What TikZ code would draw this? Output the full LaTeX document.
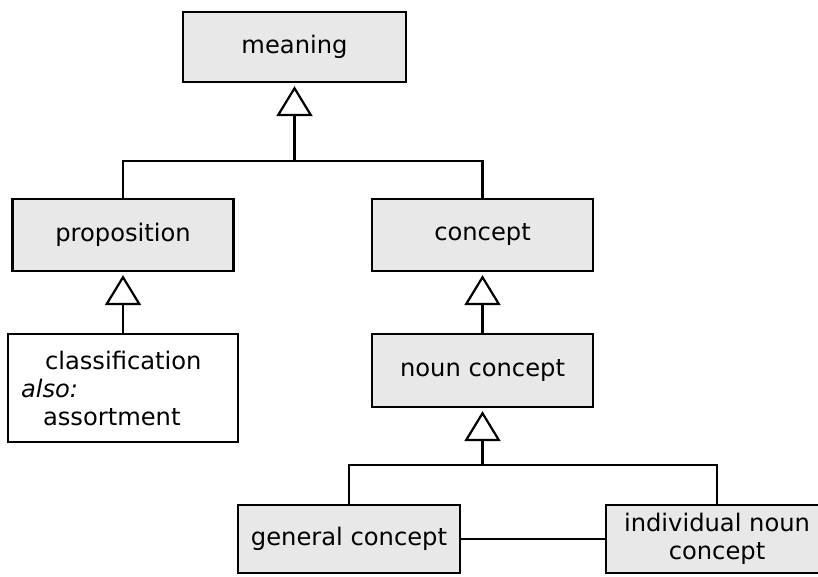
\documentclass[tikz,border=0pt]{standalone}
\usepackage{fontspec}
\setmainfont{DejaVu Sans}
\usetikzlibrary{arrows.meta,positioning}
\tikzset{
  cls/.style={draw,fill=black!9,line width=2.2pt,minimum width=221pt,minimum height=72pt,align=center,font=\fontsize{24.2}{28}\selectfont},
  term/.style={cls,fill=white,minimum width=230pt,minimum height=108pt,text width=204pt,align=left,inner sep=13pt},
  inh/.style={-{Triangle[open,fill=white,length=30pt,width=36pt]},line width=2.2pt,shorten >=3pt},
  ln/.style={line width=2.2pt}
}
\begin{document}
\begin{tikzpicture}[x=1pt,y=-1pt]
\useasboundingbox (0,0) rectangle (818,576);
\clip (0,0) rectangle (818,576);

\node[cls,minimum width=223pt,minimum height=70pt] (meaning) at (294.5,47) {meaning};
\node[cls] (proposition) at (123,235) {proposition};
\node[cls] (concept) at (482.5,235) {concept};
\node[term] (classification) at (123,388) {\hspace*{24pt}classification\\\textit{also:}\\\hspace*{22pt}assortment};
\node[cls,minimum height=73pt] (nounconcept) at (482.5,370.5) {noun concept};
\node[cls,minimum width=222pt,minimum height=68pt] (general) at (349,539) {general concept};
\node[cls,minimum width=222pt,minimum height=68pt] (individual) at (717,539) {individual noun\\concept};

\coordinate (j1) at (294.5,161);
\coordinate (j2) at (482.5,465);
\draw[ln] (proposition.north) |- (j1) -| (concept.north); \draw[inh] (j1)--(meaning);
\draw[inh] (classification)--(proposition);
\draw[inh] (nounconcept)--(concept);
\draw[ln] (general.north) |- (j2) -| (individual.north); \draw[inh] (j2)--(nounconcept);
\draw[ln] (general)--(individual);
\end{tikzpicture}
\end{document}
